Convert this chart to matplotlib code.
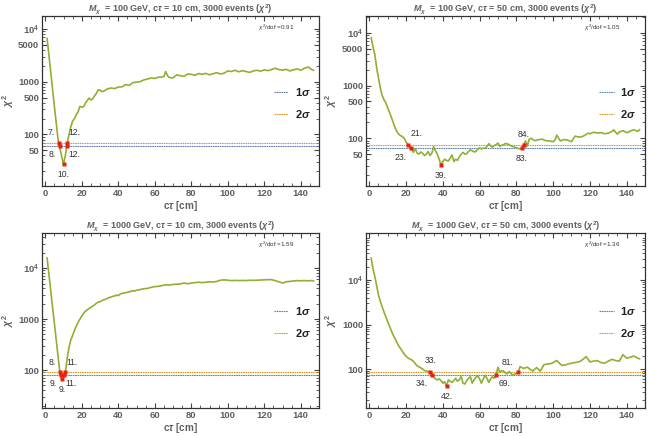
import matplotlib
matplotlib.use("Agg")
import matplotlib.pyplot as plt
from matplotlib.ticker import FixedLocator, LogLocator, NullFormatter, MultipleLocator

# ---- data ----
# panel 1: M = 100 GeV, ctau = 10 cm
ct_a = [1, 2, 3, 4, 5, 6, 7, 8, 9, 10, 11, 12, 13, 14, 15, 16, 17, 18, 19, 20,
        21, 22, 23, 24, 25, 26, 27, 28, 29, 30, 31, 32, 34, 36, 38, 40, 42, 44, 46, 48,
        50, 52, 54, 56, 58, 60, 62, 64, 65, 66, 67, 68, 70, 72, 74, 76, 78, 80, 82, 84,
        86, 88, 90, 92, 94, 96, 98, 100, 102, 104, 106, 108, 110, 112, 114, 116, 118, 120, 122, 124,
        126, 128, 130, 132, 134, 136, 138, 140, 142, 144, 146, 147]
chi_a = [6600, 3200, 1500, 720, 340, 165, 80, 55, 38, 27, 40, 66, 100, 140, 180, 200, 235, 270, 340, 330,
         335, 390, 440, 490, 450, 470, 540, 600, 700, 690, 650, 660, 730, 760, 740, 790, 800, 880, 850, 960,
         980, 1000, 1080, 1120, 1180, 1150, 1220, 1230, 1250, 1560, 1300, 1200, 1180, 1350, 1300, 1260, 1400, 1380, 1320, 1430,
         1380, 1440, 1350, 1420, 1480, 1400, 1450, 1600, 1560, 1650, 1540, 1620, 1560, 1500, 1600, 1650, 1580, 1680, 1620, 1700,
         1800, 1700, 1650, 1720, 1600, 1680, 1750, 1650, 1800, 1900, 1700, 1650]
sig_a = [60, 70]
dof_a = "0.91"
cross_xa = [7.3, 7.8, 10, 11.8, 12.1]
cross_ya = [70, 60, 27, 60, 70]
cross_la = ["7.", "8.", "10.", "12.", "12."]

# panel 2: M = 100 GeV, ctau = 50 cm
ct_b = [1, 2, 3, 4, 5, 6, 7, 8, 9, 10, 11, 12, 13, 14, 15, 16, 17, 18, 19, 20,
        21, 22, 23, 24, 25, 26, 27, 28, 29, 30, 31, 32, 33, 34, 35, 36, 37, 38, 39, 40,
        41, 42, 43, 44, 45, 46, 47, 48, 49, 50, 51, 52, 53, 54, 55, 56, 57, 58, 59, 60,
        61, 62, 63, 64, 65, 66, 67, 68, 69, 70, 71, 72, 73, 74, 75, 76, 77, 78, 79, 80,
        81, 82, 83, 84, 85, 86, 87, 88, 89, 90, 92, 94, 96, 98, 100, 101, 102, 103, 104, 106,
        108, 110, 111, 112, 114, 116, 118, 119, 120, 122, 124, 126, 128, 130, 132, 133, 134, 135, 136, 138,
        140, 141, 142, 144, 146, 147]
chi_b = [8100, 5500, 3900, 2200, 1400, 900, 650, 540, 470, 380, 310, 250, 200, 160, 135, 120, 112, 108, 100, 85,
         76, 68, 62, 54, 64, 52, 50, 55, 52, 47, 50, 56, 47, 52, 69, 58, 50, 40, 31, 36,
         40, 38, 37, 42, 48, 36, 40, 38, 45, 50, 54, 50, 51, 56, 60, 58, 55, 56, 62, 66,
         63, 65, 64, 70, 79, 72, 68, 73, 76, 81, 70, 74, 75, 80, 78, 76, 72, 70, 68, 66,
         64, 63, 64, 76, 89, 71, 96, 100, 95, 90, 94, 96, 90, 89, 86, 92, 115, 100, 89, 95,
         92, 86, 98, 110, 105, 108, 118, 125, 122, 130, 126, 128, 122, 125, 135, 145, 130, 120, 132, 140,
         128, 130, 138, 145, 135, 145]
sig_b = [64, 75]
dof_b = "1.05"
cross_xb = [21.1, 22.6, 39, 83, 83.9]
cross_yb = [75, 64, 31, 64, 75]
cross_lb = ["21.", "23.", "39.", "83.", "84."]

# panel 3: M = 1000 GeV, ctau = 10 cm
ct_c = [1, 2, 3, 4, 5, 6, 7, 8, 9, 10, 11, 12, 13, 14, 15, 16, 17, 18, 19, 20,
        21, 22, 23, 24, 25, 26, 27, 28, 29, 30, 31, 32, 33, 34, 35, 36, 37, 38, 39, 40,
        41, 42, 43, 44, 45, 46, 47, 48, 49, 50, 52, 54, 56, 58, 60, 62, 64, 66, 68, 70,
        72, 74, 76, 78, 80, 82, 84, 86, 88, 90, 92, 94, 96, 98, 100, 102, 104, 106, 108, 110,
        112, 114, 116, 118, 120, 122, 124, 126, 128, 130, 132, 134, 136, 138, 140, 142, 144, 146, 147]
chi_c = [15800, 7600, 3600, 1700, 820, 390, 185, 92, 66, 70, 92, 170, 280, 390, 480, 600, 730, 870, 1000, 1150,
         1300, 1430, 1520, 1620, 1700, 1800, 1900, 2050, 2150, 2200, 2300, 2400, 2450, 2550, 2650, 2700, 2800, 2850, 2950, 2900,
         3100, 3200, 3250, 3300, 3350, 3450, 3500, 3600, 3550, 3700, 3800, 3950, 4000, 4200, 4350, 4400, 4550, 4700, 4650, 4800,
         4850, 4900, 5100, 4950, 5100, 5200, 5300, 5200, 5300, 5400, 5350, 5500, 5800, 5900, 5800, 5700, 5750, 5700, 5750, 5700,
         5800, 5750, 5800, 5850, 5900, 5950, 5950, 5700, 5400, 5100, 5400, 5500, 5600, 5700, 5650, 5700, 5650, 5700, 5600]
sig_c = [79, 90]
dof_c = "1.59"
cross_xc = [8.1, 8.5, 9, 10.4, 10.9]
cross_yc = [90, 79, 66, 79, 90]
cross_lc = ["8.", "9.", "9.", "11.", "11."]

# panel 4: M = 1000 GeV, ctau = 50 cm
ct_d = [1, 2, 3, 4, 5, 6, 7, 8, 9, 10, 11, 12, 13, 14, 15, 16, 17, 18, 19, 20,
        21, 22, 23, 24, 25, 26, 27, 28, 29, 30, 31, 32, 33, 34, 35, 36, 37, 38, 39, 40,
        41, 42, 43, 44, 45, 46, 47, 48, 49, 50, 51, 52, 53, 54, 55, 56, 57, 58, 59, 60,
        61, 62, 63, 64, 65, 66, 67, 68, 69, 70, 71, 72, 73, 74, 75, 76, 77, 78, 79, 80,
        81, 82, 84, 86, 88, 89, 91, 93, 95, 97, 99, 100, 102, 104, 105, 107, 109, 111, 113, 115,
        118, 120, 122, 124, 126, 128, 130, 132, 134, 136, 138, 140, 142, 144, 146, 147]
chi_d = [31000, 18000, 12000, 7500, 4600, 3300, 2500, 1900, 1500, 1150, 920, 720, 580, 480, 400, 330, 290, 250, 215, 195,
         178, 168, 160, 150, 132, 118, 112, 106, 100, 93, 90, 88, 85, 72, 66, 60, 57, 60, 55, 48,
         52, 41, 57, 53, 50, 55, 62, 53, 58, 68, 48, 46, 55, 62, 67, 48, 58, 65, 70, 60,
         48, 60, 72, 62, 50, 60, 67, 62, 73, 110, 85, 92, 90, 82, 78, 88, 80, 73, 76, 80,
         85, 113, 103, 110, 95, 90, 108, 90, 125, 130, 133, 140, 155, 128, 120, 125, 132, 138, 142, 150,
         190, 145, 150, 155, 140, 135, 150, 165, 155, 150, 210, 175, 185, 195, 175, 170]
sig_d = [73, 84]
dof_d = "1.36"
cross_xd = [33.1, 33.9, 42, 69, 80.8]
cross_yd = [84, 73, 41, 73, 84]
cross_ld = ["33.", "34.", "42.", "69.", "81."]

masses = ["100", "100", "1000", "1000"]
ctaus = ["10", "50", "10", "50"]
yticks_top = [50, 100, 500, 1000, 5000, 10000]
ylabels_top = ["50", "100", "500", "1000", "5000", r"$\mathbf{10^4}$"]
yticks_bot = [100, 1000, 10000]
ylabels_bot = ["100", "1000", r"$\mathbf{10^4}$"]

# ---- styling / layout ----
green = "#8fb032"
blue = "#5e81b5"
orange = "#e19c24"
gray = "#5f5f5f"

# label offsets (points) for the crossing annotations in each panel
offs = [
    [(-3, 4, "right", "bottom"), (-3, -3, "right", "top"), (0, -4, "center", "top"),
     (1, -3, "left", "top"), (1, 4, "left", "bottom")],
    [(2, 5, "left", "bottom"), (-3, -3, "right", "top"), (0, -4, "center", "top"),
     (0, -4, "center", "top"), (0, 4, "center", "bottom")],
    [(-3, 4, "right", "bottom"), (-3, -3, "right", "top"), (0, -4, "center", "top"),
     (1, -3, "left", "top"), (1, 4, "left", "bottom")],
    [(0, 5, "center", "bottom"), (-3, -3, "right", "top"), (0, -4, "center", "top"),
     (2, -3, "left", "top"), (-3, 4, "right", "bottom")],
]

panels = [
    (ct_a, chi_a, sig_a, dof_a, cross_xa, cross_ya, cross_la, (10.5, 17600), yticks_top, ylabels_top),
    (ct_b, chi_b, sig_b, dof_b, cross_xb, cross_yb, cross_lb, (12.4, 21000), yticks_top, ylabels_top),
    (ct_c, chi_c, sig_c, dof_c, cross_xc, cross_yc, cross_lc, (18, 49000), yticks_bot, ylabels_bot),
    (ct_d, chi_d, sig_d, dof_d, cross_xd, cross_yd, cross_ld, (13.3, 114000), yticks_bot, ylabels_bot),
]
rects = [
    [0.0648, 0.5734, 0.4275, 0.3898],
    [0.5648, 0.5734, 0.4306, 0.3898],
    [0.0648, 0.0642, 0.4275, 0.4014],
    [0.5648, 0.0642, 0.4306, 0.4014],
]

plt.rcParams["font.family"] = ["Liberation Sans", "DejaVu Sans"]
plt.rcParams["mathtext.fontset"] = "custom"
plt.rcParams["mathtext.rm"] = "Liberation Sans"
plt.rcParams["mathtext.bf"] = "Liberation Sans:bold"
plt.rcParams["mathtext.it"] = "Liberation Sans:italic"
plt.rcParams["mathtext.bfit"] = "Liberation Sans:bold:italic"

fig = plt.figure(figsize=(6.48, 4.36), dpi=100)

for i, (ct, chi, sig, dof, cx, cy, cl, ylim, yt, ylab) in enumerate(panels):
    ax = fig.add_axes(rects[i])
    ax.set_yscale("log")
    ax.plot(ct, chi, color=green, lw=1.2, zorder=3)
    ax.axhline(sig[0], color=blue, lw=0.8, ls=(0, (1.5, 0.6)), label=r"$\mathbf{1}\mathbfit{\sigma}$", zorder=2)
    ax.axhline(sig[1], color=orange, lw=0.8, ls=(0, (1.5, 0.6)), label=r"$\mathbf{2}\mathbfit{\sigma}$", zorder=2)
    ax.plot(cx, cy, "s", color="#e8200c", ms=2.5, mec="none", zorder=4)
    for j in range(len(cx)):
        dx, dy, ha, va = offs[i][j]
        ax.annotate(cl[j], (cx[j], cy[j]), xytext=(dx, dy), textcoords="offset points",
                    ha=ha, va=va, fontsize=6.2, color="#333333")
    ax.set_xlim(-1.8, 150)
    ax.set_ylim(*ylim)
    ax.xaxis.set_major_locator(MultipleLocator(20))
    ax.xaxis.set_minor_locator(MultipleLocator(5))
    ax.yaxis.set_major_locator(FixedLocator(yt))
    ax.set_yticklabels(ylab)
    ax.yaxis.set_minor_locator(LogLocator(base=10, subs=range(2, 10)))
    ax.yaxis.set_minor_formatter(NullFormatter())
    ax.tick_params(which="both", direction="in", top=True, right=True, color="#444444")
    ax.tick_params(which="major", length=3.5, labelsize=6.8, labelcolor=gray, pad=2)
    ax.tick_params(which="minor", length=2)
    for lab in ax.get_xticklabels() + ax.get_yticklabels():
        lab.set_fontweight("bold")
    for s in ax.spines.values():
        s.set_color("#333333")
        s.set_linewidth(0.9)
    title = (r"$\mathbfit{M}_{\mathbfit{\chi}}$  = " + masses[i] + r" GeV, c$\mathbfit{\tau}$ = "
             + ctaus[i] + r" cm, 3000 events ($\mathbfit{\chi}^{\mathbf{2}}$)")
    ax.set_title(title, fontsize=6.5, fontweight="bold", color=gray, pad=0.3)
    ax.set_xlabel(r"c$\mathbfit{\tau}$ [cm]", fontsize=7.2, fontweight="bold", color=gray, labelpad=1)
    ax.set_ylabel(r"$\mathbfit{\chi}^{\mathbf{2}}$", fontsize=7.5, color=gray)
    ax.yaxis.set_label_coords(-0.095, 0.5)
    ax.text(0.78, 0.93, r"$\chi^2$/dof =" + dof, transform=ax.transAxes, fontsize=4.5,
            color="#333333", va="center")
    leg = ax.legend(loc="center left", bbox_to_anchor=(0.8, 0.49), frameon=False,
                    fontsize=8, handlelength=1.3, handletextpad=0.6, labelspacing=0.9)
    for t in leg.get_texts():
        t.set_color("#222222")

fig.savefig("out.png", dpi=100)
